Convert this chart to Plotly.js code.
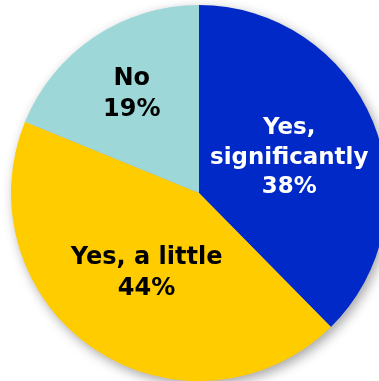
<!DOCTYPE html>
<html><head><meta charset="utf-8">
<script src="https://cdn.plot.ly/plotly-3.0.1.min.js"></script>
<style>
html,body{margin:0;padding:0;background:#fff;overflow:hidden;width:379px;height:381px;}
#chart{width:398px;height:386px;}
#chart .main-svg:first-child{filter:drop-shadow(3px 4px 6px rgba(0,0,0,0.35));}
</style></head>
<body><div id="chart"></div>
<script>
const labels = ["Yes,<br>significantly", "Yes, a little", "No"];
const values = [38, 44, 19];
const colors = ["#0029C8", "#FFCC00", "#9DD7D7"];
const textColors = ["#FFFFFF", "#000000", "#000000"];

Plotly.newPlot("chart", [{
  type: "pie",
  labels: labels,
  values: values,
  sort: false,
  direction: "clockwise",
  rotation: 0,
  marker: {colors: colors, line: {width: 0}},
  texttemplate: "%{label}<br>%{value}%",
  textposition: "inside",
  insidetextorientation: "horizontal",
  insidetextfont: {family: "DejaVu Sans", size: 24, color: textColors, weight: "bold"},
  hoverinfo: "none"
}], {
  width: 398, height: 386,
  margin: {l: 11, r: 11, t: 5, b: 5},
  showlegend: false,
  paper_bgcolor: "rgba(0,0,0,0)",
  plot_bgcolor: "rgba(0,0,0,0)"
}, {staticPlot: true, displayModeBar: false});
</script></body></html>
